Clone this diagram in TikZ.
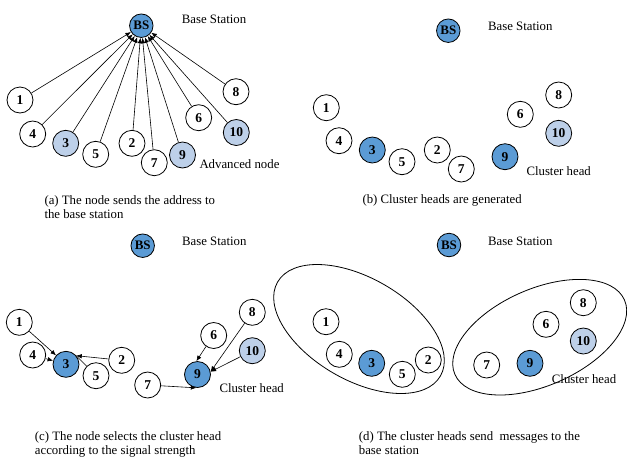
\documentclass[tikz,border=0pt]{standalone}
\usepackage{fontspec}
\setmainfont{Liberation Serif}
\usetikzlibrary{arrows.meta}
\definecolor{chblue}{HTML}{5B9BD5}
\definecolor{advblue}{HTML}{BDD0E9}
\tikzset{
  nd/.style={circle,draw,line width=0.8pt,minimum size=26pt,inner sep=0pt,fill=white,
    font=\fontsize{13.5}{14}\selectfont\bfseries},
  chd/.style={nd,fill=chblue},
  adv/.style={nd,fill=advblue},
  bs/.style={nd,fill=chblue,minimum size=23.5pt,font=\fontsize{13}{14}\selectfont\bfseries},
  lbl/.style={inner sep=0pt,font=\fontsize{12.8}{14}\selectfont},
  arr/.style={line width=0.6pt,-{Latex[length=5.5pt,width=4.5pt]}},
  ln/.style={line width=0.6pt},
  ell/.style={line width=0.8pt}
}
\begin{document}
\begin{tikzpicture}[x=1pt,y=-1pt]
\useasboundingbox (0,0) rectangle (627,459);
% ---------- (a) ----------
\node[bs] (aBS) at (141.3,25.7) {BS};
\node[lbl,anchor=base] (aLab) at (214,23.3) {Base Station};
\node[nd] (a1) at (20,100) {1};
\node[nd] (a4) at (32.7,134) {4};
\node[adv] (a3) at (65.7,143.3) {3};
\node[nd] (a5) at (95.7,154.3) {5};
\node[nd] (a2) at (132,143.3) {2};
\node[nd] (a7) at (154.3,162.7) {7};
\node[adv] (a9) at (182.5,155) {9};
\node[nd] (a6) at (198.7,117.7) {6};
\node[nd] (a8) at (236,91.7) {8};
\node[adv] (a10) at (236.3,132.5) {10};
\node[lbl,anchor=base west] (aAdv) at (199.3,168.3) {Advanced node};
\foreach \n in {1,4,3,5,2,7,9,6,8,10} {\draw[arr] (a\n) -- (aBS);}
\node[lbl,anchor=base west] (capA1) at (44.3,204) {(a) The node sends the address to};
\node[lbl,anchor=base west] (capA2) at (44.3,218) {the base station};
% ---------- (b) ----------
\node[bs] (bBS) at (448.3,30.7) {BS};
\node[lbl,anchor=base] (bLab) at (520.3,30.7) {Base Station};
\node[nd] (b1) at (326.3,107.7) {1};
\node[nd] (b4) at (339,140.7) {4};
\node[chd] (b3) at (372.3,150) {3};
\node[nd] (b5) at (402,161.7) {5};
\node[nd] (b2) at (437.3,150) {2};
\node[nd] (b7) at (461.3,169) {7};
\node[chd] (b9) at (505,156.7) {9};
\node[nd] (b6) at (520.3,114.3) {6};
\node[nd] (b8) at (558.7,95) {8};
\node[adv] (b10) at (558.7,133.3) {10};
\node[lbl,anchor=base west] (bCH) at (526.3,175.7) {Cluster head};
\node[lbl,anchor=base west] (capB) at (362.3,203.7) {(b) Cluster heads are generated};
% ---------- (c) ----------
\node[bs] (cBS) at (142.7,245.7) {BS};
\node[lbl,anchor=base] (cLab) at (214.3,245) {Base Station};
\node[nd] (c1) at (19.3,322.3) {1};
\node[nd] (c4) at (32.7,355) {4};
\node[chd] (c3) at (66,364.3) {3};
\node[nd] (c5) at (96,375.7) {5};
\node[nd] (c2) at (121.7,360.3) {2};
\node[nd] (c7) at (147.7,385) {7};
\node[chd] (c9) at (197.5,374.5) {9};
\node[nd] (c6) at (213.7,335.5) {6};
\node[nd] (c8) at (252.3,312.3) {8};
\node[adv] (c10) at (252.3,350.7) {10};
\node[lbl,anchor=base west] (cCH) at (219.3,392.3) {Cluster head};
\draw[arr] (c1) -- (c3);
\draw[arr] (c4) -- (c3);
\draw[arr] (c2) -- (c3.40);
\draw[ln] (c5) -- (c3.40);
\draw[arr] (c7) -- (c9.-95);
\draw[arr] (c6.235) -- (c9.95);
\draw[arr] (c8) -- (c9.12);
\draw[arr] (c10) -- (c9.12);
\node[lbl,anchor=base west] (capC1) at (34.7,440) {(c) The node selects the cluster head};
\node[lbl,anchor=base west] (capC2) at (34.7,454) {according to the signal strength};
% ---------- (d) ----------
\draw[ell,rotate around={-30:(359,329)}] (359,329) ellipse [x radius=94pt, y radius=51pt];
\draw[ell,rotate around={23.7:(539.7,337.2)}] (539.7,337.2) ellipse [x radius=92.6pt, y radius=48.3pt];
\node[bs] (dBS) at (449,245) {BS};
\node[lbl,anchor=base] (dLab) at (520.3,245) {Base Station};
\node[nd] (d1) at (326,321.7) {1};
\node[nd] (d4) at (339.3,354.3) {4};
\node[chd] (d3) at (371.7,363.3) {3};
\node[nd] (d5) at (402.3,374.3) {5};
\node[nd] (d2) at (428.3,360) {2};
\node[nd] (d7) at (486.7,365) {7};
\node[chd] (d9) at (530,363.3) {9};
\node[nd] (d6) at (546,324.3) {6};
\node[nd] (d8) at (583.3,302.7) {8};
\node[adv] (d10) at (583.3,341) {10};
\node[lbl,anchor=base west] (dCH) at (551.7,383) {Cluster head};
\node[lbl,anchor=base west] (capD1) at (358.7,440) {(d) The cluster heads send\ \ messages to the};
\node[lbl,anchor=base west] (capD2) at (358.7,454) {base station};
\end{tikzpicture}
\end{document}
